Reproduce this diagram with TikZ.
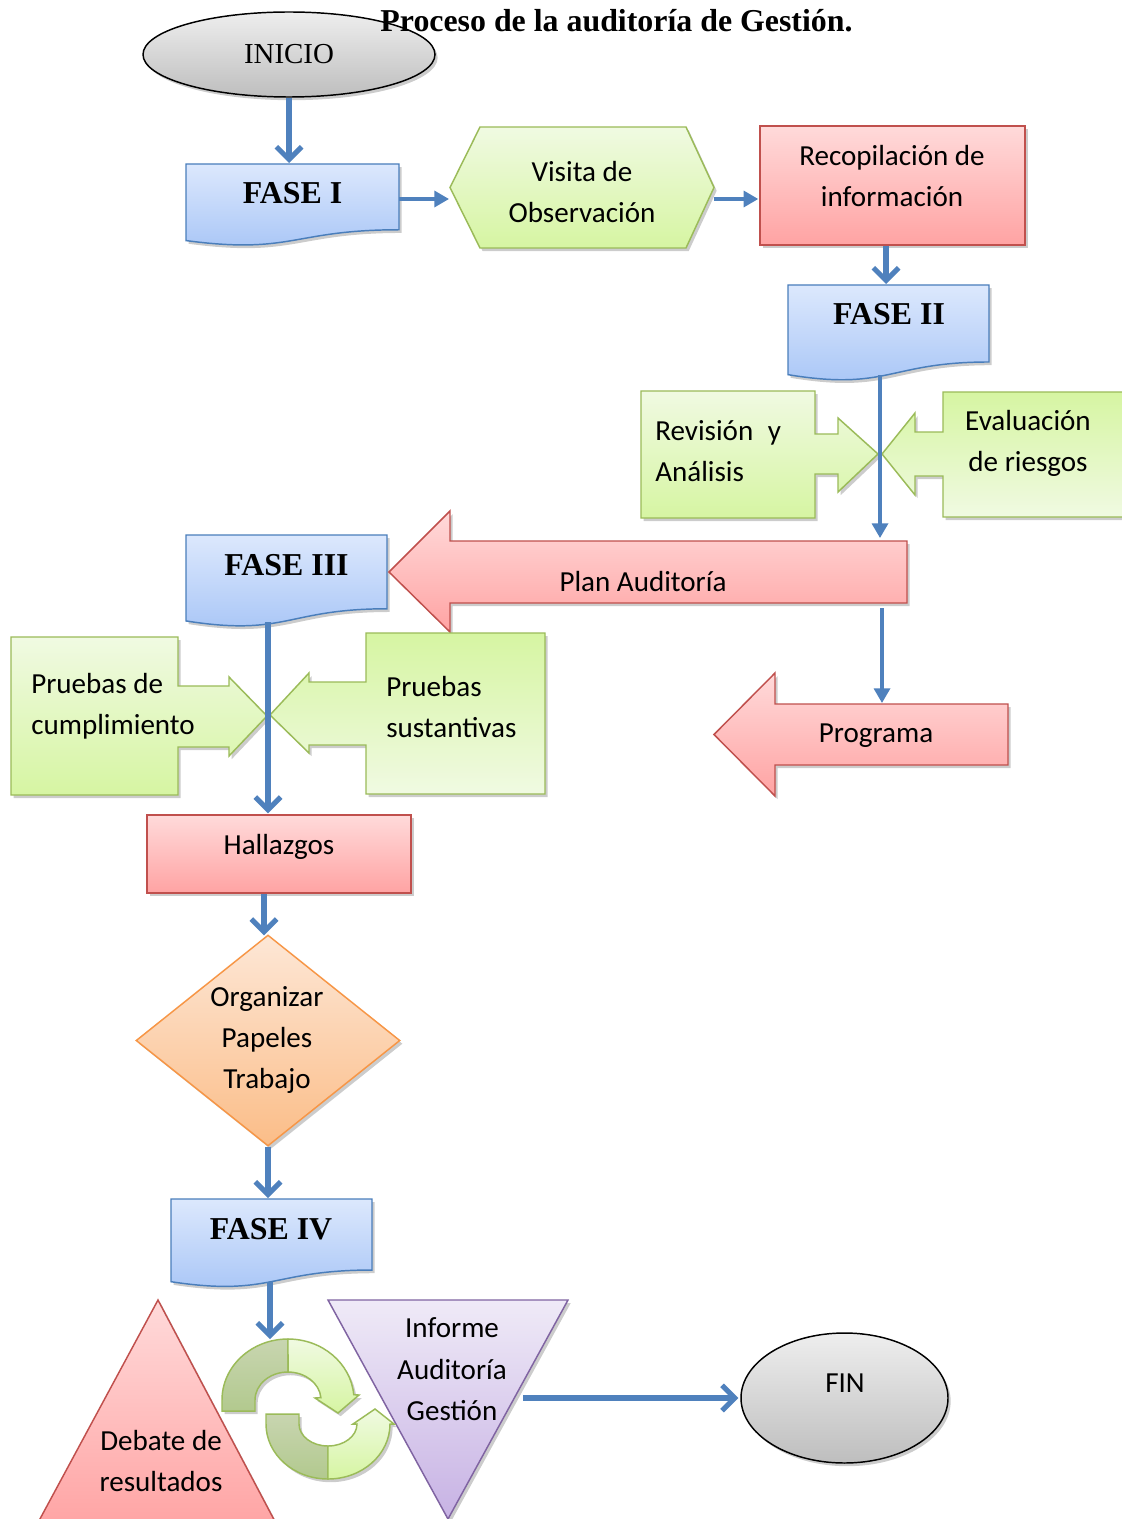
\documentclass[tikz,border=0pt]{standalone}
\usepackage{fontspec}
\setmainfont{Liberation Serif}
\newfontfamily\calfont{Carlito}
\usetikzlibrary{arrows.meta,calc,backgrounds,shapes.geometric}
\definecolor{conn}{HTML}{4F81BD}
\definecolor{bluetop}{HTML}{DCE8FD}
\definecolor{bluebot}{HTML}{A6C4F6}
\definecolor{blueline}{HTML}{4A7EBB}
\definecolor{greentop}{HTML}{F0FAE2}
\definecolor{greenbot}{HTML}{D6F5A2}
\definecolor{greenline}{HTML}{9BBB59}
\definecolor{redtop}{HTML}{FFDADA}
\definecolor{redbot}{HTML}{FFA3A3}
\definecolor{redline}{HTML}{C0504D}
\definecolor{orangetop}{HTML}{FDE7D6}
\definecolor{orangebot}{HTML}{FBBD88}
\definecolor{orangeline}{HTML}{F79646}
\definecolor{purpletop}{HTML}{EFEAF7}
\definecolor{purplebot}{HTML}{C7B2E4}
\definecolor{purpleline}{HTML}{8064A2}
\definecolor{graytop}{HTML}{EEEEEE}
\definecolor{graybot}{HTML}{BEBEBE}
\definecolor{darkgtop}{HTML}{C8D5B0}
\definecolor{darkgbot}{HTML}{B2C98E}
\begin{document}
\begin{tikzpicture}[x=0.75pt,y=-0.75pt,
  shadowed/.style={preaction={fill=black,opacity=0.2,transform canvas={xshift=2pt,yshift=-2.4pt}}},
  ghost/.style={inner sep=0pt,outer sep=0pt},
  cal/.style={font=\calfont\fontsize{21.8}{31.1}\selectfont,inner sep=0pt},
  fase/.style={font=\bfseries\fontsize{23.9}{28}\selectfont,inner sep=0pt},
  bluedoc/.style={shadowed,top color=bluetop,bottom color=bluebot,draw=blueline,line width=1.1pt},
  greendown/.style={shadowed,top color=greentop,bottom color=greenbot,draw=greenline,line width=1.1pt},
  greenup/.style={shadowed,top color=greenbot,bottom color=greentop,draw=greenline,line width=1.1pt},
  redshape/.style={shadowed,top color=redtop,bottom color=redbot,draw=redline,line width=1.1pt},
  orangeshape/.style={shadowed,top color=orangetop,bottom color=orangebot,draw=orangeline,line width=1.1pt},
  purpleshape/.style={shadowed,top color=purpletop,bottom color=purplebot,draw=purpleline,line width=1.1pt},
  grayshape/.style={shadowed,top color=graytop,bottom color=graybot,draw=black,line width=1.1pt},
  cycdark/.style={shadowed,top color=darkgtop,bottom color=darkgbot,draw=greenline,line width=1.1pt},
  cyclight/.style={shadowed,top color=greentop,bottom color=greenbot,draw=greenline,line width=1.1pt},
  link/.style={draw=conn,line width=3.8pt},
  chev/.style={link,-{Straight Barb[length=9.5pt,width=19pt]}},
  tri/.style={link,line width=2.5pt,-{Triangle[length=11pt,width=12pt]}}
]
\useasboundingbox (0,0) rectangle (1121,1519);

% ---------- nodes ----------
\node[ellipse,grayshape,minimum width=219pt,minimum height=63.75pt,inner sep=0pt,
      font=\fontsize{21.7}{26}\selectfont] (ini) at (289,54.5) {INICIO};
\node[font=\bfseries\fontsize{23.9}{28}\selectfont,anchor=base,inner sep=0pt] (title) at (616.5,32)
      {Proceso de la auditoría de Gestión.};

\node[ghost,minimum width=159.75pt,minimum height=61.5pt,anchor=north west] (f1) at (186,164) {};
\node[fase] (f1t) at (292.5,193) {FASE I};
\node[ghost,minimum width=150.75pt,minimum height=72pt,anchor=north west] (f2) at (788,285) {};
\node[fase] (f2t) at (889,314) {FASE II};
\node[ghost,minimum width=150.75pt,minimum height=69pt,anchor=north west] (f3) at (186,535) {};
\node[fase] (f3t) at (286.5,565) {FASE III};
\node[ghost,minimum width=150.75pt,minimum height=66.4pt,anchor=north west] (f4) at (171,1199) {};
\node[fase] (f4t) at (271,1229) {FASE IV};

\node[ghost,minimum width=198pt,minimum height=90.75pt] (vis) at (582,187.5) {};
\node[cal,align=center] (vist) at (582,192) {Visita de\\Observación};

\node[redshape,minimum width=198.75pt,minimum height=89.25pt,inner sep=0pt] (rec) at (892.5,185.5) {};
\node[cal,align=center] (rect) at (892,176) {Recopilación de\\información};

\node[cal,align=left,anchor=west] (revt) at (655,451) {Revisión\hspace{11pt}y\\Análisis};
\node[cal,align=center] (evat) at (1028,443.5) {Evaluación\\de riesgos};

\node[ghost,minimum width=342.75pt,minimum height=46.5pt] (plan) at (678.5,572) {};
\node[cal] (plant) at (643,582) {Plan Auditoría};
\node[ghost,minimum width=174.75pt,minimum height=45.75pt] (prog) at (891.5,734.5) {};
\node[cal] (progt) at (876,735.5) {Programa};

\node[cal,align=left,anchor=west] (pct) at (31,706) {Pruebas de\\cumplimiento};
\node[cal,align=left,anchor=west] (pst) at (386,707) {Pruebas\\sustantivas};

\node[redshape,minimum width=198pt,minimum height=58.5pt,inner sep=0pt] (hal) at (279,854) {};
\node[cal] (halt) at (279,847) {Hallazgos};

\node[diamond,orangeshape,minimum width=198pt,minimum height=158.25pt,inner sep=0pt] (org) at (268,1040.5) {};
\node[cal,align=center] (orgt) at (267,1040) {Organizar\\Papeles\\Trabajo};

\node[ghost,minimum width=126.75pt,minimum height=105pt] (cyc) at (306.5,1409) {};
\node[ghost,minimum width=180pt,minimum height=164.25pt] (inf) at (448,1409.5) {};
\node[cal,align=center] (inft) at (452,1369.5) {Informe\\Auditoría\\Gestión};
\node[cal,align=center] (debt) at (161,1461) {Debate de\\resultados};

\node[ellipse,grayshape,minimum width=155.25pt,minimum height=97.5pt,inner sep=0pt] (fin) at (844.5,1398) {};
\node[cal] (fint) at (845,1383) {FIN};

% ---------- shapes on background ----------
\begin{scope}[on background layer]
\fill[white] (0,0) rectangle (1121,1519);
\path[bluedoc] (f1.north west) -- (f1.north east) -- ($(f1.north east)!0.802!(f1.south east)$)
  .. controls ($(f1.north)!0.802!(f1.south)$) and ($(f1.north)!1.107!(f1.south)$) .. ($(f1.north west)!0.934!(f1.south west)$) -- cycle;
\path[bluedoc] (f2.north west) -- (f2.north east) -- ($(f2.north east)!0.802!(f2.south east)$)
  .. controls ($(f2.north)!0.802!(f2.south)$) and ($(f2.north)!1.107!(f2.south)$) .. ($(f2.north west)!0.934!(f2.south west)$) -- cycle;
\path[bluedoc] (f3.north west) -- (f3.north east) -- ($(f3.north east)!0.802!(f3.south east)$)
  .. controls ($(f3.north)!0.802!(f3.south)$) and ($(f3.north)!1.107!(f3.south)$) .. ($(f3.north west)!0.934!(f3.south west)$) -- cycle;
\path[bluedoc] (f4.north west) -- (f4.north east) -- ($(f4.north east)!0.802!(f4.south east)$)
  .. controls ($(f4.north)!0.802!(f4.south)$) and ($(f4.north)!1.107!(f4.south)$) .. ($(f4.north west)!0.934!(f4.south west)$) -- cycle;

\path[greendown] (vis.west) -- ($(vis.north west)+(30,0)$) -- ($(vis.north east)+(-28,0)$) -- (vis.east)
  -- ($(vis.south east)+(-28,0)$) -- ($(vis.south west)+(30,0)$) -- cycle;

\path[greendown] (641,391) -- (815,391) -- (815,434) -- (838,434) -- (838,418) -- (878,454) -- (838,492)
  -- (838,474) -- (815,474) -- (815,518) -- (641,518) -- cycle;
\path[greenup] (1124,392) -- (943,392) -- (943,432) -- (915,432) -- (915,413) -- (882,454) -- (915,495)
  -- (915,476) -- (943,476) -- (943,517) -- (1124,517) -- cycle;

\path[redshape] (plan.north east) -- (plan.north west) -- ($(plan.north west)+(0,-30)$) -- ($(plan.west)+(-61,0)$)
  -- ($(plan.south west)+(0,29)$) -- (plan.south west) -- (plan.south east) -- cycle;
\path[redshape] (prog.north east) -- (prog.north west) -- ($(prog.north west)+(0,-31)$) -- ($(prog.west)+(-61,0)$)
  -- ($(prog.south west)+(0,31)$) -- (prog.south west) -- (prog.south east) -- cycle;

\path[greendown] (11,637) -- (178,637) -- (178,686) -- (229,686) -- (229,677) -- (267,716) -- (229,756)
  -- (229,747) -- (178,747) -- (178,795) -- (11,795) -- cycle;
\path[greenup] (545,633) -- (366,633) -- (366,682) -- (309,682) -- (309,673) -- (270,715) -- (309,753)
  -- (309,745) -- (366,745) -- (366,794) -- (545,794) -- cycle;

\path[redshape] (158,1300) -- (279.5,1530) -- (34,1530) -- cycle;
\path[purpleshape] (inf.north west) -- (inf.north east) -- (inf.south) -- cycle;

% circular arrows
\path[cycdark] (222,1411) -- (222,1400) arc[start angle=180,end angle=270,x radius=66,y radius=61]
  -- (288,1372) arc[start angle=270,end angle=180,x radius=33,y radius=28] -- (255,1411) -- cycle;
\path[cyclight] (288,1339) arc[start angle=270,end angle=355,x radius=66,y radius=61] -- (359,1395)
  -- (338,1413) -- (315,1398) -- (320.9,1397.6) arc[start angle=355,end angle=270,x radius=33,y radius=28] -- cycle;
\path[cycdark] (266,1414) -- (266,1424) arc[start angle=180,end angle=90,x radius=62,y radius=55]
  -- (328,1446) arc[start angle=90,end angle=180,x radius=29,y radius=22] -- (299,1414) -- cycle;
\path[cyclight] (328,1479) arc[start angle=90,end angle=0,x radius=62,y radius=55] -- (394,1424)
  -- (375,1409) -- (353,1424) -- (357,1424) arc[start angle=0,end angle=90,x radius=29,y radius=22] -- cycle;
\end{scope}

% ---------- connectors ----------
\draw[chev] (ini.south) -- ($(ini.south |- f1.north)+(0,-1)$);
\draw[tri] ($(f1.east)+(0,-6)$) -- ($(vis.west)+(-1,11.5)$);
\draw[tri] ($(vis.east)+(0,11.5)$) -- ($(rec.west |- vis.east)+(-1,11.5)$);
\draw[chev] ($(rec.south)+(-6.5,0)$) -- ($(rec.south |- f2.north)+(-6.5,-1)$);
\draw[tri] ($(f2.south)+(-8.5,-6)$) -- ($(f2.south |- plan.north)+(-8.5,-3)$);
\draw[tri] ($(plan.south -| prog.north)+(-9.5,5)$) -- ($(prog.north)+(-9.5,-1)$);
\draw[chev] ($(f3.south)+(-18.5,-5)$) -- ($(f3.south |- hal.north)+(-18.5,-1)$);
\draw[chev] ($(hal.south)+(-15,0)$) -- ($(hal.south |- org.north)+(-15,1)$);
\draw[chev] (org.south) -- ($(org.south |- f4.north)+(0,-1)$);
\draw[chev] ($(f4.south)+(-1.5,-6)$) -- ($(f4.south |- cyc.north)+(-1.5,0)$);
\draw[chev] ($(inf.east |- fin.west)+(-45,0)$) -- ($(fin.west)+(-2,0)$);
\end{tikzpicture}
\end{document}
